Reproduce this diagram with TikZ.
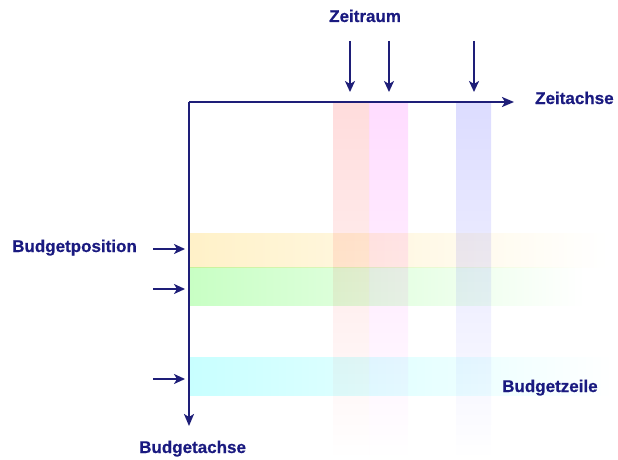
\documentclass[tikz,border=0pt]{standalone}
\usepackage{fontspec}
\setmainfont{Liberation Sans}[BoldFeatures={FakeBold=0.6}]
\usetikzlibrary{arrows.meta}
\definecolor{navy}{HTML}{1A1A80}
\definecolor{axisc}{HTML}{1E1E78}
\definecolor{bandyellow}{HTML}{FFF1C8}
\definecolor{bandgreen}{HTML}{C8FFC4}
\definecolor{bandcyan}{HTML}{C8FFFF}
\definecolor{stripered}{HTML}{FFDCDC}
\definecolor{stripemag}{HTML}{FFDCFF}
\definecolor{stripeblue}{HTML}{DCDCFF}
\begin{document}
\begin{tikzpicture}[x=1pt,y=-1pt,
  lbl/.style={font=\fontsize{17}{17}\selectfont\bfseries, text=navy, inner sep=0pt, anchor=base west},
  ax/.style={draw=axisc, line width=2pt, -{Stealth[length=12pt,width=10pt,inset=3pt]}},
  ptr/.style={draw=axisc, line width=2pt, -{Stealth[length=11pt,width=10pt,inset=3pt]}},
  band/.style={draw=none, left color=#1, right color=white, shading angle=90},
  stripe/.style={draw=none, top color=#1, bottom color=white}]
\useasboundingbox (0,0) rectangle (618,460);
% colour areas
\begin{scope}[blend group=multiply]
  \shade[band=bandyellow] (190,233) rectangle (608,267);
  \shade[band=bandgreen] (190,267) rectangle (585,305);
  \shade[band=bandcyan] (190,357) rectangle (612,395);
  \shade[stripe=stripered] (333,103) rectangle (369,460);
  \shade[stripe=stripemag] (369,103) rectangle (408,460);
  \shade[stripe=stripeblue] (456,103) rectangle (491,460);
\end{scope}
% axes
\coordinate (origin) at (189,102);
\coordinate (xend) at (514,102);
\coordinate (yend) at (189,426);
\draw[ax] (origin) -- (xend);
\draw[ax] (origin) -- (yend);
% labels
\node[lbl] (zeitraum) at (329,22) {Zeitraum};
\node[lbl] (zeitachse) at (535,104) {Zeitachse};
\node[lbl] (budgetposition) at (12,252) {Budgetposition};
\node[lbl] (budgetachse) at (139,453) {Budgetachse};
\node[lbl] (budgetzeile) at (502,392) {Budgetzeile};
% period arrows
\foreach \i/\x in {1/350,2/389,3/474}{
  \coordinate (ps\i) at (\x,41);
  \coordinate (pe\i) at (\x,92);
  \draw[ptr] (ps\i) -- (pe\i);
}
% position arrows
\foreach \i/\y in {1/249,2/289,3/379}{
  \coordinate (bs\i) at (153,\y);
  \coordinate (be\i) at (185,\y);
  \draw[ptr] (bs\i) -- (be\i);
}
\end{tikzpicture}
\end{document}
